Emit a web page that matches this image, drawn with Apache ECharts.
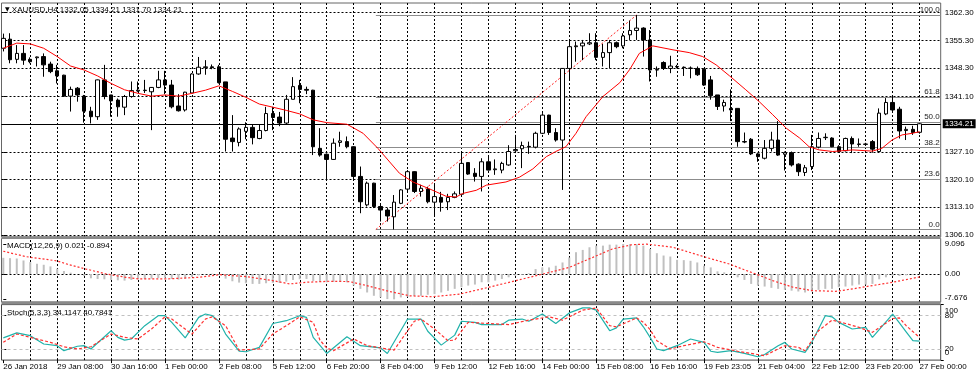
<!DOCTYPE html>
<html><head><meta charset="utf-8">
<script src="https://cdn.jsdelivr.net/npm/echarts@6/dist/echarts.min.js"></script>
<style>html,body{margin:0;padding:0;background:#fff}#c{width:977px;height:379px}</style>
</head><body><div id="c"></div>
<script>
const symbolName = 'XAUUSD,H4';
const timeLabels = ['26 Jan 2018','29 Jan 08:00','30 Jan 16:00','1 Feb 00:00','2 Feb 08:00','5 Feb 12:00','6 Feb 20:00','8 Feb 04:00','9 Feb 12:00','12 Feb 16:00','14 Feb 00:00','15 Feb 08:00','16 Feb 16:00','19 Feb 23:05','21 Feb 04:00','22 Feb 12:00','23 Feb 20:00','27 Feb 00:00'];
const labelEvery = 8;
// [open, close, low, high]
const candles = [
[1353.3,1355.8,1352.5,1357.0],[1355.6,1350.4,1349.5,1357.1],[1350.5,1352.0,1349.5,1354.1],[1352.0,1350.3,1349.1,1354.1],
[1350.5,1349.9,1349.5,1351.0],[1350.9,1351.1,1348.7,1351.2],[1351.2,1349.1,1346.1,1352.0],[1349.3,1347.4,1347.0,1349.9],
[1347.6,1346.3,1344.4,1349.1],[1346.5,1341.2,1341.0,1346.6],[1341.2,1342.9,1337.3,1343.6],[1343.2,1341.5,1339.8,1343.5],
[1341.2,1337.4,1334.5,1341.5],[1337.4,1336.0,1334.3,1338.5],[1336.0,1345.3,1335.2,1345.4],[1345.3,1341.1,1340.4,1349.1],
[1341.5,1340.0,1336.0,1341.5],[1340.2,1338.5,1336.0,1340.6],[1338.4,1341.1,1336.4,1341.5],[1341.1,1342.6,1340.8,1344.9],
[1342.5,1342.7,1342.3,1344.9],[1342.6,1342.7,1342.0,1345.3],[1342.3,1343.4,1332.6,1343.5],[1343.4,1345.3,1343.2,1347.6],
[1345.3,1344.0,1341.7,1347.6],[1344.0,1338.5,1338.1,1345.3],[1338.7,1337.5,1337.3,1341.7],[1337.7,1342.2,1337.3,1342.3],
[1342.0,1346.8,1341.9,1347.0],[1346.8,1348.5,1346.6,1351.1],[1348.4,1348.6,1346.6,1350.3],[1348.6,1348.4,1348.0,1349.2],
[1348.6,1344.6,1344.4,1349.1],[1344.8,1330.3,1327.2,1344.8],[1330.6,1329.7,1327.2,1336.4],[1329.5,1332.9,1328.5,1333.3],
[1332.3,1333.3,1330.3,1334.6],[1333.3,1330.7,1329.0,1334.1],[1330.5,1332.5,1330.3,1334.1],[1332.5,1336.8,1332.3,1338.5],
[1336.8,1335.8,1332.6,1338.5],[1335.9,1334.4,1333.6,1337.2],[1334.4,1340.4,1333.9,1341.5],[1340.4,1343.6,1340.4,1346.0],
[1343.9,1342.9,1339.4,1345.3],[1342.9,1342.7,1341.7,1343.6],[1342.7,1328.4,1326.3,1342.8],[1328.0,1326.3,1325.9,1333.1],
[1326.5,1325.2,1320.0,1326.7],[1325.2,1329.3,1325.1,1330.5],[1329.5,1329.9,1328.4,1332.2],[1329.7,1328.4,1328.0,1331.0],
[1328.4,1320.9,1320.0,1328.5],[1320.9,1314.5,1311.6,1323.4],[1313.7,1319.2,1313.3,1319.6],[1319.2,1313.3,1312.9,1319.3],
[1313.3,1312.4,1309.5,1313.7],[1312.4,1310.9,1309.5,1312.9],[1310.7,1314.4,1307.5,1316.2],[1314.1,1317.5,1313.9,1317.7],
[1317.7,1322.1,1317.1,1322.5],[1322.1,1317.1,1316.7,1322.2],[1317.1,1317.9,1315.8,1318.8],[1317.7,1314.5,1314.1,1318.3],
[1314.4,1315.8,1310.7,1318.8],[1315.6,1314.4,1312.0,1317.0],[1314.5,1315.6,1312.4,1316.5],[1315.6,1316.5,1315.4,1317.1],
[1316.4,1324.2,1316.2,1327.2],[1324.4,1321.5,1321.3,1324.4],[1321.7,1320.9,1319.6,1323.0],[1320.9,1324.6,1317.1,1325.5],
[1324.6,1322.5,1322.4,1326.3],[1322.6,1322.8,1321.3,1325.2],[1322.5,1324.2,1321.7,1324.6],[1323.8,1327.2,1323.6,1328.8],
[1327.4,1327.7,1326.8,1331.4],[1327.9,1328.7,1323.0,1329.7],[1328.5,1328.4,1326.6,1329.7],[1328.3,1331.8,1328.0,1332.2],
[1331.8,1336.4,1331.6,1336.9],[1336.4,1332.0,1331.4,1336.5],[1332.0,1330.1,1329.7,1333.1],[1330.1,1348.2,1317.5,1348.3],
[1348.2,1353.7,1345.3,1355.6],[1353.7,1353.9,1349.9,1355.0],[1353.9,1354.6,1350.3,1355.4],[1354.4,1354.7,1354.1,1357.1],
[1354.7,1351.0,1350.3,1357.1],[1351.0,1352.2,1348.7,1354.4],[1352.2,1354.7,1348.2,1355.4],[1354.7,1353.7,1353.3,1355.0],
[1353.9,1356.4,1353.3,1357.1],[1356.7,1357.8,1355.4,1360.3],[1357.8,1358.4,1355.4,1361.7],[1358.4,1355.4,1351.2,1358.6],
[1355.4,1347.8,1344.9,1357.9],[1347.8,1347.9,1346.1,1348.7],[1349.7,1348.2,1347.8,1350.0],[1348.2,1348.8,1347.0,1351.4],
[1348.7,1348.6,1348.2,1349.1],[1348.5,1348.4,1346.3,1348.7],[1348.3,1348.2,1345.7,1348.7],[1348.2,1346.6,1346.3,1348.7],
[1348.0,1344.0,1343.8,1348.2],[1345.3,1341.3,1340.3,1346.3],[1341.5,1338.6,1337.7,1341.5],[1338.7,1339.6,1337.3,1340.3],
[1338.1,1337.7,1334.9,1342.9],[1338.1,1329.7,1328.4,1338.1],[1329.7,1329.6,1329.3,1332.0],[1330.3,1326.6,1326.3,1330.6],
[1326.6,1325.9,1324.6,1326.8],[1325.5,1328.0,1325.2,1330.1],[1328.0,1330.1,1327.2,1332.2],[1330.1,1326.3,1326.1,1334.9],
[1326.5,1326.9,1322.4,1327.2],[1326.9,1323.8,1323.4,1327.2],[1324.0,1322.1,1321.0,1324.2],[1321.9,1323.1,1321.0,1323.8],
[1323.4,1328.4,1322.5,1331.4],[1328.3,1330.5,1328.0,1332.0],[1330.7,1330.8,1330.1,1331.8],[1330.6,1328.4,1328.3,1330.8],
[1328.4,1327.2,1326.9,1328.8],[1327.4,1330.5,1327.2,1330.7],[1330.5,1329.1,1326.8,1331.0],[1329.1,1329.0,1328.4,1330.5],
[1329.0,1329.1,1328.6,1329.4],[1329.7,1327.8,1326.9,1330.1],[1327.2,1336.9,1326.9,1338.1],[1336.7,1339.6,1336.4,1340.7],
[1339.6,1337.7,1337.4,1341.1],[1337.9,1332.4,1330.5,1338.5],[1332.5,1332.8,1330.1,1333.5],[1332.8,1332.0,1331.4,1333.7],
[1332.05,1334.21,1331.70,1334.21]
];
// moving average: [bar index, price]
const maPoints = [[0,1353.3],[2,1354.6],[4,1354.4],[6,1353.3],[8,1351.2],[10,1348.8],[12,1347.8],[14,1346.3],[16,1344.4],[18,1342.8],[20,1341.9],[22,1341.2],[24,1341.5],[26,1341.2],[28,1341.9],[30,1342.7],[32,1343.8],[34,1342.4],[36,1340.9],[38,1339.2],[40,1338.4],[42,1337.6],[44,1336.7],[46,1335.2],[48,1334.5],[51,1334.1],[53.4,1331.8],[55.6,1328.0],[58.8,1321.7],[60.8,1319.5],[63.2,1317.8],[65.7,1315.9],[67.2,1315.7],[68.2,1316.6],[70.2,1317.4],[71.7,1318.7],[74.6,1319.5],[76.6,1320.7],[78.6,1322.8],[80.6,1325.9],[82,1327.2],[83.5,1328.4],[85,1331.8],[86.5,1336.0],[89,1341.1],[91.5,1344.6],[93,1348.0],[94.4,1352.0],[96.4,1353.9],[99.4,1352.9],[101.8,1352.2],[103.8,1351.2],[105.8,1349.1],[107.8,1346.3],[110.2,1342.8],[112.2,1339.8],[114.2,1336.5],[116.2,1333.1],[118.2,1330.6],[119.6,1328.4],[121.1,1327.6],[123.1,1327.2],[126.1,1327.6],[129,1327.3],[130.4,1328.0],[131.9,1330.1],[133.4,1331.4],[134.9,1331.8],[136,1332.2]];
const macdHist = [4.9,4.8,4.7,4.1,3.6,3.1,2.8,2.3,1.6,0.9,0.4,0.0,-0.6,-1.3,-1.5,-1.6,-1.8,-1.9,-2.0,-1.8,-1.6,-1.5,-1.4,-1.2,-1.1,-1.5,-1.7,-1.4,-0.9,-0.4,-0.1,0.1,-0.2,-1.4,-2.2,-2.6,-2.8,-3.0,-3.0,-2.8,-2.7,-2.7,-2.3,-1.8,-1.6,-1.5,-2.1,-2.4,-2.5,-2.4,-2.4,-2.5,-3.5,-4.5,-5.6,-6.6,-7.1,-7.6,-7.676,-7.1,-6.9,-6.6,-6.6,-6.3,-6.1,-5.6,-5.1,-4.5,-4.0,-3.5,-3.2,-2.5,-2.5,-2.0,-1.5,-1.0,-0.5,-0.2,0.2,1.5,2.0,2.0,2.5,3.5,5.0,6.6,7.3,8.1,8.6,8.6,8.9,8.9,9.096,9.05,9.05,8.6,7.6,6.3,5.6,5.3,4.3,4.2,4.0,3.5,2.5,2.0,0.8,0.5,0.2,-1.0,-1.8,-3.0,-3.5,-3.8,-4.2,-4.5,-4.8,-5.05,-5.3,-5.6,-5.3,-4.8,-4.5,-4.5,-4.0,-3.8,-3.5,-3.2,-3.2,-3.0,-1.6,-1.0,-0.5,-0.6,-0.4,-0.2,0.021];
const macdSignal = [[0,6.9],[3.4,5.25],[7.9,4.0],[9.8,2.8],[12.3,1.5],[15.3,0],[18.2,-1.0],[20.2,-1.5],[24.2,-1.5],[29.1,-1.0],[32.1,-0.2],[36.1,-0.8],[40,-2.0],[42.5,-3.0],[45,-2.5],[48.4,-2.2],[51.4,-2.3],[53.9,-3.5],[56.8,-5.05],[60.3,-6.6],[63.7,-6.9],[67.7,-6.1],[72.1,-4.0],[76.1,-2.0],[80.1,0],[84,2.0],[87.5,5.05],[90.4,7.6],[93.4,8.9],[95.5,9.05],[99.4,8.1],[101.8,6.6],[104.3,5.05],[107.8,3.0],[109.7,1.5],[111.7,0],[114.2,-2.0],[117.2,-4.0],[120.1,-5.05],[123.6,-5.25],[126.1,-4.5],[129,-3.5],[132,-2.5],[134.5,-1.5],[136,-0.894]];
const stochMain = [[0,40],[2,49],[4,44],[6,29],[8,26],[9,17],[11,25],[12,26],[13,20],[16,53],[17,41],[18,36],[19,38],[21,62],[23,80],[24,80],[25,68],[27,40],[29,77],[30,83],[31,80],[32,70],[33,47],[35,16],[36,15],[38,23],[40,66],[42,71],[44,80],[45,77],[46,41],[48,12],[51,42],[53,26],[56,22],[57,12],[60,74],[62,74],[63,52],[65,27],[67,45],[68,70],[70,68],[71,64],[74,64],[75,72],[77,74],[78,70],[80,83],[82,66],[84,85],[86,94],[87,94],[88,90],[90,53],[91,58],[92,74],[94,76],[95,60],[96,41],[97,20],[98,17],[100,26],[102,38],[104,32],[105,16],[106,14],[108,17],[110,12],[112,6],[113,10],[115,26],[116,32],[117,20],[119,14],[120,32],[122,80],[123,78],[124,68],[126,56],[128,59],[129,41],[132,83],[133,67],[134,51],[135,35],[136,34.1147]];
const stochSignal = [[0,32],[2,47],[4,41],[7,32],[9,24],[11,20],[13,24],[16,47],[18,41],[20,38],[22,56],[24,78],[25,74],[28,47],[30,74],[31,78],[33,62],[35,18],[38,20],[40,47],[42,62],[44,78],[46,68],[47,36],[48,22],[49,17],[52,38],[54,26],[58,18],[61,70],[62,74],[64,56],[66,35],[67,36],[69,68],[72,66],[75,64],[78,72],[81,78],[83,72],[86,90],[88,94],[90,62],[91,60],[94,76],[95,68],[96,55],[97,35],[99,20],[101,26],[104,33],[106,23],[109,16],[113,8],[116,26],[118,23],[119,17],[121,53],[123,72],[125,66],[127,59],[129,50],[132,75],[133,76],[134,62],[136,40.7841]];
const priceTicks = [1306.1,1313.1,1320.1,1327.1,1334.1,1341.1,1348.3,1355.3,1362.3];
const priceLabelTicks = [1306.1,1313.1,1320.1,1327.1,1341.1,1348.3,1355.3,1362.3];
const macdTicks = [-7.676,0,9.096];
const stochLevelTicks = [20,80];
const stochEndTicks = [0,100];
const stochLevels = [20,80];
const fibLevels = [0,23.6,38.2,50,61.8,100];
const fibLow = 1307.5, fibHigh = 1361.7, fibStartIdx = 55.3, fibEndIdx = 94;

const FONT = 'Liberation Sans';
const N = candles.length;
const xMin = -0.267, xMax = 139.13;
const L = 1.5, R = 977 - 940.7;
const labelIdx = timeLabels.map((_, k) => k * labelEvery);
const last = candles[N - 1];
const dash = {color:'#000', width:1, type:[2,2]};
const vGrid = [];
for (let i = 4; i < N; i += 4) vGrid.push({xAxis: i});

function xAx(gi, show) {
  return {type:'value', gridIndex:gi, min:xMin, max:xMax, axisLine:{show:false}, splitLine:{show:false},
    axisTick: show ? {show:true, customValues:labelIdx, length:3, lineStyle:{color:'#000'}} : {show:false},
    axisLabel: show ? {show:true, customValues:labelIdx, formatter:v => timeLabels[Math.round(v / labelEvery)], align:'left', margin:3, fontSize:8, fontFamily:FONT, color:'#000', showMinLabel:true, showMaxLabel:true, hideOverlap:false} : {show:false}};
}
const labelBase = {fontSize:8, fontFamily:FONT, color:'#000', showMinLabel:true, showMaxLabel:true, hideOverlap:false};
const tStyle = {fontSize:8, fontWeight:'normal', color:'#000', fontFamily:FONT};
const sepStyle = {fill:'#8a8a8a'};

const option = {
  animation:false,
  backgroundColor:'#fff',
  title:[
    {text:'{tri|\u25BC} ' + symbolName + ' ' + [last[0], last[3], last[2], last[1]].map(v => v.toFixed(2)).join(' '), left:5, top:5.5, padding:0,
     textStyle:Object.assign({}, tStyle, {rich:{tri:{fontSize:6, fontFamily:'DejaVu Sans', color:'#000'}}})},
    {text:'MACD(12,26,9) ' + macdHist[N-1].toFixed(3) + ' ' + macdSignal[macdSignal.length-1][1].toFixed(3), left:7, top:241.5, padding:0, textStyle:tStyle},
    {text:'Stoch(5,3,3) ' + stochMain[stochMain.length-1][1].toFixed(4) + ' ' + stochSignal[stochSignal.length-1][1].toFixed(4), left:7, top:309, padding:0, textStyle:tStyle}
  ],
  graphic:[
    {type:'rect', shape:{x:L, y:236.3, width:940.7 - L, height:2.6}, style:sepStyle, silent:true, z:10},
    {type:'rect', shape:{x:L, y:301.6, width:940.7 - L, height:2.8}, style:sepStyle, silent:true, z:10}
  ],
  grid:[
    {left:L, right:R, top:3, height:234, show:true, borderColor:'#666', borderWidth:1, backgroundColor:'transparent'},
    {left:L, right:R, top:238.5, height:63.5, show:true, borderColor:'#666', borderWidth:1, backgroundColor:'transparent'},
    {left:L, right:R, top:304.6, height:55.5, show:true, borderColor:'#444', borderWidth:1, backgroundColor:'transparent'}
  ],
  xAxis:[xAx(0,false), xAx(1,false), xAx(2,true)],
  yAxis:[
    {type:'value', gridIndex:0, position:'right', min:1305.59, max:1364.74, splitLine:{show:false}, axisLine:{show:false},
     axisTick:{show:true, customValues:priceLabelTicks, length:3, lineStyle:{color:'#000'}},
     axisLabel:Object.assign({customValues:priceLabelTicks, formatter:v => v.toFixed(2), margin:4}, labelBase)},
    {type:'value', gridIndex:1, position:'right', min:-8.485, max:10.76, splitLine:{show:false}, axisLine:{show:false},
     axisTick:{show:true, customValues:macdTicks, length:3, lineStyle:{color:'#000'}},
     axisLabel:Object.assign({customValues:macdTicks, margin:4, formatter:v => v === 0 ? '0.00' : (v < 0 ? '{lo|' + v.toFixed(3) + '}' : v.toFixed(3)),
       rich:{lo:{padding:[0,0,4,0], fontSize:8, fontFamily:FONT, color:'#000'}}}, labelBase)},
    {type:'value', gridIndex:2, position:'right', min:0, max:100, splitLine:{show:false}, axisLine:{show:false},
     axisTick:{show:true, customValues:stochLevelTicks, length:3, lineStyle:{color:'#000'}},
     axisLabel:Object.assign({customValues:stochLevelTicks, margin:4, formatter:v => String(v)}, labelBase)},
    {type:'value', gridIndex:2, position:'right', min:0, max:100, splitLine:{show:false}, axisLine:{show:false},
     axisTick:{show:true, customValues:stochEndTicks, length:3, lineStyle:{color:'#000'}},
     axisLabel:Object.assign({customValues:stochEndTicks, margin:4, formatter:v => v === 100 ? '{t|100}' : '{b|0}',
       rich:{t:{padding:[12,0,0,0], fontSize:8, fontFamily:FONT, color:'#000'}, b:{padding:[0,0,15,0], fontSize:8, fontFamily:FONT, color:'#000'}}}, labelBase)}
  ],
  series:[
    {type:'line', name:'gridMain', xAxisIndex:0, yAxisIndex:0, data:[], silent:true, clip:false,
     markLine:{silent:true, z:1, symbol:['none','none'], label:{show:false}, lineStyle:dash, animation:false,
       data:[...vGrid, ...priceTicks.map(v => ({yAxis:v}))]}},
    {type:'line', name:'fib', xAxisIndex:0, yAxisIndex:0, data:[], silent:true, clip:false,
     markLine:{silent:true, z:1, symbol:['none','none'], animation:false,
       label:{show:true, position:'insideEndTop', formatter:'{b}', distance:[1,1], fontSize:8, fontFamily:FONT, color:'#222'},
       lineStyle:{color:'#8c8c8c', width:1.2, type:'solid'},
       data:[
         ...fibLevels.map(lv => { const p = fibLow + (fibHigh - fibLow) * lv / 100; const nm = lv.toFixed(1);
           return [{name:nm, coord:[fibStartIdx, p]}, {name:nm, coord:[xMax, p]}]; }),
         [{name:'', coord:[fibStartIdx, fibLow], label:{show:false}, lineStyle:{color:'#ff2020', type:[2,2], width:1}},
          {coord:[fibEndIdx, fibHigh]}]
       ]}},
    {type:'line', name:'bid', xAxisIndex:0, yAxisIndex:0, data:[], silent:true, clip:false,
     markLine:{silent:true, z:1, symbol:['none','none'], animation:false,
       lineStyle:{color:'#000', width:1, type:'solid'},
       label:{show:true, position:'end', formatter:last[1].toFixed(2), backgroundColor:'#000', color:'#fff', padding:[1,2,0,2], fontSize:8, fontFamily:FONT, distance:2},
       data:[{yAxis:last[1]}]}},
    {type:'candlestick', name:'price', xAxisIndex:0, yAxisIndex:0, z:2,
     data:candles.map((c, i) => [i, c[0], c[1], c[2], c[3]]), encode:{x:0, y:[1,2,3,4]},
     barWidth:4, itemStyle:{color:'#fff', color0:'#000', borderColor:'#000', borderColor0:'#000', borderWidth:1}},
    {type:'line', name:'MA', xAxisIndex:0, yAxisIndex:0, z:3, data:maPoints, symbol:'none', lineStyle:{color:'#ff0000', width:1}},
    {type:'line', name:'gridMacd', xAxisIndex:1, yAxisIndex:1, data:[], silent:true,
     markLine:{silent:true, z:1, symbol:['none','none'], label:{show:false}, lineStyle:dash, animation:false,
       data:[...vGrid, {yAxis:0}]}},
    {type:'bar', name:'MACD', xAxisIndex:1, yAxisIndex:1, z:2, data:macdHist.map((v, i) => [i, v]), barWidth:2, itemStyle:{color:'#c0c0c0'}},
    {type:'line', name:'Signal', xAxisIndex:1, yAxisIndex:1, z:3, data:macdSignal, symbol:'none', lineStyle:{color:'#ff3030', width:1.2, type:[2,2]}},
    {type:'line', name:'gridStoch', xAxisIndex:2, yAxisIndex:2, data:[], silent:true,
     markLine:{silent:true, z:1, symbol:['none','none'], label:{show:false}, lineStyle:dash, animation:false,
       data:[...vGrid, ...stochLevels.map(v => ({yAxis:v, lineStyle:{color:'#c0c0c0', type:[3,3], width:1}}))]}},
    {type:'line', name:'%K', xAxisIndex:2, yAxisIndex:2, z:3, data:stochMain, symbol:'none', lineStyle:{color:'#20b2aa', width:1.2}},
    {type:'line', name:'%D', xAxisIndex:2, yAxisIndex:2, z:3, data:stochSignal, symbol:'none', lineStyle:{color:'#ff3030', width:1.2, type:[3,2]}}
  ]
};
const chart = echarts.init(document.getElementById('c'));
chart.setOption(option);
</script></body></html>
